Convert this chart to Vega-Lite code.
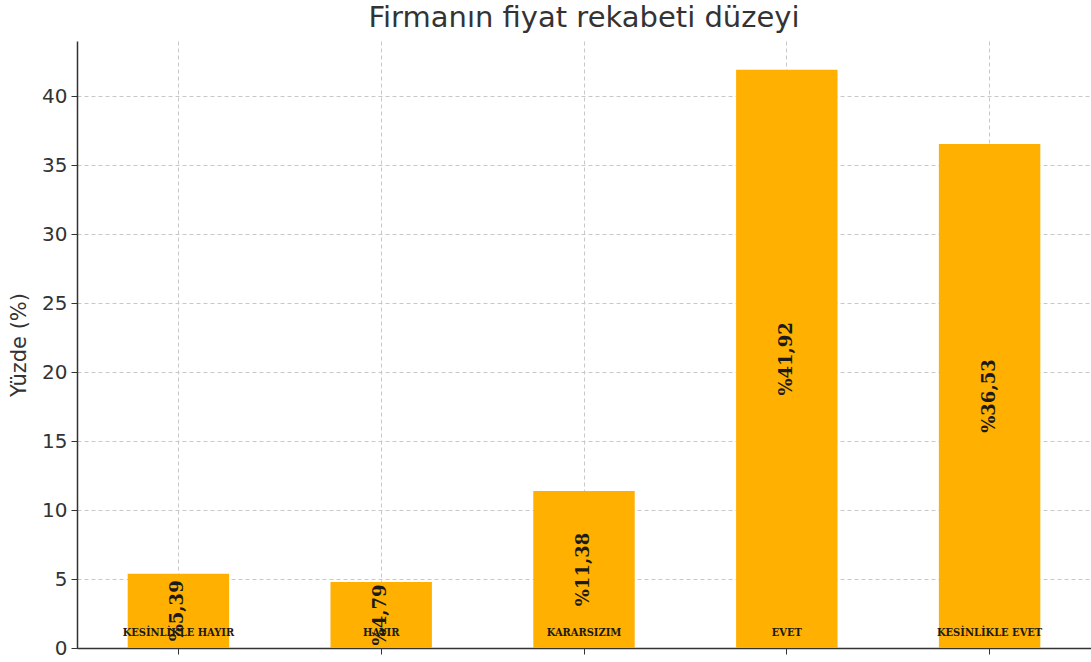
{
  "$schema": "https://vega.github.io/schema/vega-lite/v6.json",
  "autosize": "none",
  "width": 1014,
  "height": 607,
  "padding": {"left": 77, "top": 41, "right": 0, "bottom": 14},
  "background": "white",
  "title": {
    "text": "Firmanın fiyat rekabeti düzeyi",
    "font": "DejaVu Sans",
    "fontSize": 29,
    "fontWeight": "normal",
    "color": "#333333",
    "anchor": "middle",
    "offset": 8
  },
  "data": {
    "values": [
      {"kategori": "KESİNLİKLE HAYIR", "yuzde": 5.39, "etiket": "%5,39"},
      {"kategori": "HAYIR", "yuzde": 4.79, "etiket": "%4,79"},
      {"kategori": "KARARSIZIM", "yuzde": 11.38, "etiket": "%11,38"},
      {"kategori": "EVET", "yuzde": 41.92, "etiket": "%41,92"},
      {"kategori": "KESİNLİKLE EVET", "yuzde": 36.53, "etiket": "%36,53"}
    ]
  },
  "config": {
    "view": {"stroke": null},
    "axis": {
      "gridDash": [4, 3],
      "gridColor": "#c8c8c8",
      "gridWidth": 1,
      "domainColor": "#333333",
      "domainWidth": 1.5,
      "tickColor": "#333333",
      "tickSize": 6,
      "labelFont": "DejaVu Sans",
      "labelFontSize": 20,
      "labelColor": "#333333",
      "titleFont": "DejaVu Sans",
      "titleFontSize": 21,
      "titleFontWeight": "normal",
      "titleColor": "#333333"
    }
  },
  "encoding": {
    "x": {
      "field": "kategori",
      "type": "nominal",
      "sort": null,
      "scale": {"paddingInner": 0.5, "paddingOuter": 0.25},
      "axis": {"title": null, "labels": false, "grid": true, "tickSize": 6}
    }
  },
  "layer": [
    {
      "mark": {"type": "bar", "color": "#FFB000"},
      "encoding": {
        "y": {
          "field": "yuzde",
          "type": "quantitative",
          "scale": {"domain": [0, 44], "nice": false},
          "axis": {"title": "Yüzde (%)", "values": [0, 5, 10, 15, 20, 25, 30, 35, 40], "grid": true, "titlePadding": 12, "labelPadding": 4}
        }
      }
    },
    {
      "transform": [{"calculate": "datum.yuzde / 2", "as": "orta"}],
      "mark": {"type": "text", "angle": 270, "font": "DejaVu Serif", "fontWeight": "bold", "fontSize": 18, "color": "#1a1a1a", "align": "center", "baseline": "middle"},
      "encoding": {
        "y": {"field": "orta", "type": "quantitative"},
        "text": {"field": "etiket"}
      }
    },
    {
      "mark": {"type": "text", "font": "DejaVu Serif Condensed, Liberation Serif", "fontWeight": "bold", "fontSize": 11, "color": "#1a1a1a", "align": "center", "baseline": "bottom", "dy": -10},
      "encoding": {
        "y": {"datum": 0, "type": "quantitative"},
        "text": {"field": "kategori"}
      }
    }
  ]
}
